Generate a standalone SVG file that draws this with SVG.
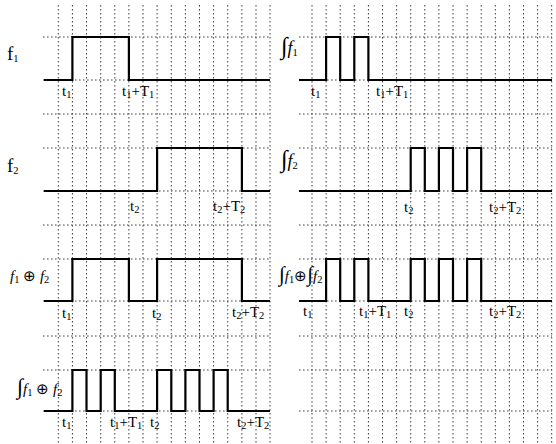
<svg xmlns="http://www.w3.org/2000/svg" width="556" height="444" viewBox="0 0 556 444">
<style>
.g{stroke:#444;stroke-width:1;stroke-dasharray:1.6 2.4;fill:none}
.w{stroke:#000;stroke-width:2.2;fill:none;stroke-linejoin:miter}
text{font-family:"Liberation Serif","Times New Roman",serif;fill:#000}
.t{font-size:15px}
.s{font-size:10.5px}
.n{font-size:19px}
.i{font-style:italic}
.int{font-size:24px}
</style>
<rect width="556" height="444" fill="#fff"/>
<g id="grid">
<path class="g" d="M58.3,5V444M72.4,5V444M86.5,5V444M100.7,5V444M114.8,5V444M128.9,5V444M143,5V444M157.1,5V444M171.3,5V444M185.4,5V444M199.5,5V444M213.6,5V444M227.7,5V444M241.9,5V444M256,5V444M270,5V444"/>
<path class="g" d="M312,5V444M326.1,5V444M340.2,5V444M354.3,5V444M368.4,5V444M382.5,5V444M396.6,5V444M410.7,5V444M424.8,5V444M438.9,5V444M453,5V444M467.1,5V444M481.2,5V444M495.3,5V444M509.4,5V444M523.5,5V444M537.6,5V444M551.7,5V444"/>
<path class="g" d="M43,37H270M43,80H270M43,114H270M43,148H270M43,191H270M43,225H270M43,259H270M43,301H270M43,336H270M43,370H270M43,411H270"/>
<path class="g" d="M299,37H552M299,80H552M299,114H552M299,148H552M299,191H552M299,225H552M299,259H552M299,301H552M299,336H552M299,370H552M299,411H552"/>
</g>
<g id="connectors">
<path class="w" d="M44,80H72.4V37H128.9V80H270"/>
<path class="w" d="M44,191H157.1V148H241.9V191H270"/>
<path class="w" d="M44,301H72.4V259H128.9V301H157.1V259H241.9V301H270"/>
<path class="w" d="M44,411H72.4V370H86.5V411H100.7V370H114.8V411H157.1V370H171.3V411H185.4V370H199.5V411H213.6V370H227.7V411H270"/>
<path class="w" d="M299,80H326.1V37H340.2V80H354.3V37H368.4V80H552"/>
<path class="w" d="M299,191H410.7V148H424.8V191H438.9V148H453V191H467.1V148H481.2V191H552"/>
<path class="w" d="M299,301H326.1V259H340.2V301H354.3V259H368.4V301H410.7V259H424.8V301H438.9V259H453V301H467.1V259H481.2V301H552"/>
</g>
<g id="f1">
<text class="n" x="7" y="60">f<tspan class="s" dy="2">1</tspan></text>
<text class="t" x="62" y="96">t<tspan class="s" dy="2">1</tspan></text>
<text class="t" x="122" y="96">t<tspan class="s" dy="2">1</tspan><tspan dy="-2">+T</tspan><tspan class="s" dy="2">1</tspan></text>
</g>
<g id="int-f1">
<text class="n" x="281" y="54"><tspan class="int">∫</tspan><tspan class="i" font-size="18px">f</tspan><tspan class="s" dy="2">1</tspan></text>
<text class="t" x="311" y="96">t<tspan class="s" dy="2">1</tspan></text>
<text class="t" x="376" y="96">t<tspan class="s" dy="2">1</tspan><tspan dy="-2">+T</tspan><tspan class="s" dy="2">1</tspan></text>
</g>
<g id="f2">
<text class="n" x="7" y="172">f<tspan class="s" dy="2">2</tspan></text>
<text class="t" x="130" y="211">t<tspan class="s" dy="2">2</tspan></text>
<text class="t" x="213" y="211">t<tspan class="s" dy="2">2</tspan><tspan dy="-2">+T</tspan><tspan class="s" dy="2">2</tspan></text>
</g>
<g id="int-f2">
<text class="n" x="281" y="167"><tspan class="int">∫</tspan><tspan class="i" font-size="18px">f</tspan><tspan class="s" dy="2">2</tspan></text>
<text class="t" x="404" y="212">t<tspan class="s" dy="2">2</tspan></text>
<text class="t" x="489" y="212">t<tspan class="s" dy="2">2</tspan><tspan dy="-2">+T</tspan><tspan class="s" dy="2">2</tspan></text>
</g>
<g id="f1-xor-f2">
<text class="t" x="10" y="281" font-size="16px"><tspan class="i">f</tspan><tspan class="s" dy="2">1</tspan><tspan dy="-2"> ⊕ </tspan><tspan class="i">f</tspan><tspan class="s" dy="2">2</tspan></text>
<text class="t" x="62" y="318">t<tspan class="s" dy="2">1</tspan></text>
<text class="t" x="152" y="318">t<tspan class="s" dy="2">2</tspan></text>
<text class="t" x="232" y="317" font-size="13px">t<tspan class="s" dy="2">2</tspan><tspan dy="-2">+T</tspan><tspan class="s" dy="2">2</tspan></text>
</g>
<g id="int-f1-xor-int-f2">
<text class="t" x="279" y="281" font-size="16px"><tspan font-size="21px">∫</tspan><tspan class="i">f</tspan><tspan class="s" dy="2">1</tspan><tspan dy="-2">⊕</tspan><tspan font-size="21px">∫</tspan><tspan class="i">f</tspan><tspan class="s" dy="2">2</tspan></text>
<text class="t" x="303" y="316" font-size="13px">t<tspan class="s" dy="2">1</tspan></text>
<text class="t" x="359" y="316" font-size="14px">t<tspan class="s" dy="2">1</tspan><tspan dy="-2">+T</tspan><tspan class="s" dy="2">1</tspan></text>
<text class="t" x="404" y="316" font-size="14px">t<tspan class="s" dy="2">2</tspan></text>
<text class="t" x="489" y="316" font-size="14px">t<tspan class="s" dy="2">2</tspan><tspan dy="-2">+T</tspan><tspan class="s" dy="2">2</tspan></text>
</g>
<g id="int-f1-xor-f2">
<text class="t" x="17" y="394" font-size="16px"><tspan font-size="22px">∫</tspan><tspan class="i">f</tspan><tspan class="s" dy="2">1</tspan><tspan dy="-2"> ⊕ </tspan><tspan class="i">f</tspan><tspan class="s" dy="2">2</tspan></text>
<text class="t" x="62" y="427" font-size="14px">t<tspan class="s" dy="2">1</tspan></text>
<text class="t" x="110" y="427" font-size="14px">t<tspan class="s" dy="2">1</tspan><tspan dy="-2">+T</tspan><tspan class="s" dy="2">1</tspan></text>
<text class="t" x="150" y="427" font-size="14px">t<tspan class="s" dy="2">2</tspan></text>
<text class="t" x="237" y="427" font-size="14px">t<tspan class="s" dy="2">2</tspan><tspan dy="-2">+T</tspan><tspan class="s" dy="2">2</tspan></text>
</g>
</svg>
